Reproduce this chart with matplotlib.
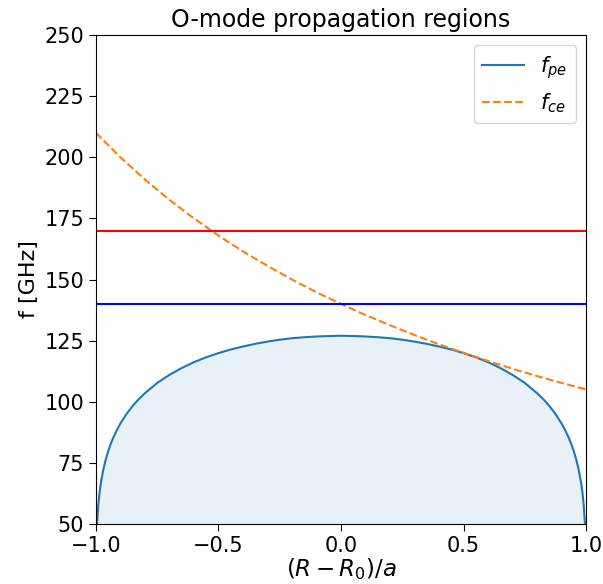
import matplotlib
matplotlib.use("Agg")
import matplotlib.pyplot as plt
import numpy as np

# normalised radius (R - R0)/a, right half of the profile
x_half = [0.0, 0.05, 0.1, 0.15, 0.2, 0.25, 0.3, 0.35, 0.4, 0.45, 0.5, 0.55,
          0.6, 0.65, 0.7, 0.75, 0.8, 0.825, 0.85, 0.875, 0.9, 0.915, 0.93,
          0.94, 0.95, 0.96, 0.97, 0.98, 0.985, 0.99, 0.995, 0.998, 0.9995, 1.0]
f_half = [127.0, 126.9, 126.7, 126.4, 126.0, 125.4, 124.6, 123.7, 122.6, 121.4,
          119.9, 118.2, 116.2, 113.8, 111.0, 107.7, 103.5, 101.1, 98.3, 95.0,
          91.1, 88.3, 85.1, 82.6, 79.7, 76.3, 72.1, 66.6, 62.9, 58.0, 50.5,
          42.0, 32.0, 0.0]

# density profile is symmetric about R0
x_pe = [-v for v in x_half[::-1]] + x_half[1:]
f_pe = f_half[::-1] + f_half[1:]

x_ce = [-1.0, -0.9, -0.8, -0.7, -0.6, -0.5, -0.4, -0.3, -0.2, -0.1, 0.0,
        0.1, 0.2, 0.3, 0.4, 0.5, 0.6, 0.7, 0.8, 0.9, 1.0]
f_ce = [210, 200, 190.9, 182.6, 175, 168, 161.5, 155.6, 150, 144.8, 140,
        135.5, 131.3, 127.3, 123.5, 120, 116.7, 113.5, 110.5, 107.7, 105]

f_red = 170    # GHz
f_blue = 140   # GHz

fig = plt.figure(figsize=(6.03, 5.84), dpi=100)
ax = fig.add_axes([0.159, 0.1027, 0.813, 0.8373])

ax.plot(x_pe, f_pe, color="tab:blue", label=r"$f_{pe}$")
ax.fill_between(x_pe, 0, f_pe, color="tab:blue", alpha=0.1, linewidth=0)
ax.plot(x_ce, f_ce, color="tab:orange", linestyle="--", label=r"$f_{ce}$")
ax.axhline(f_red, color="r")
ax.axhline(f_blue, color="b")

ax.set_xlim(-1, 1)
ax.set_ylim(50, 250)
ax.set_xticks([-1.0, -0.5, 0.0, 0.5, 1.0])
ax.set_yticks(np.arange(50, 251, 25))
ax.tick_params(labelsize=15, length=5)
ax.set_xlabel(r"$(R-R_0)/a$", fontsize=16.5, labelpad=0)
ax.set_ylabel("f [GHz]", fontsize=16)
ax.set_title("O-mode propagation regions", fontsize=17)
ax.legend(loc="upper right", fontsize=15)

fig.savefig("out.png", dpi=100)
